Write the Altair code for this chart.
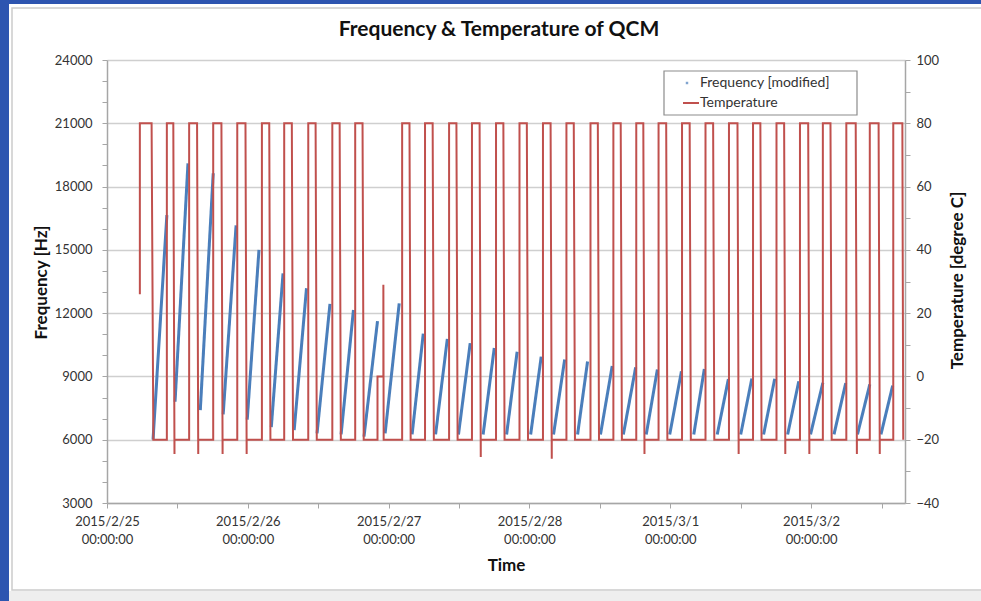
import altair as alt
import pandas as pd

BASE = pd.Timestamp("2015-02-25 00:00:00")

# ---------------- Temperature (hours after 2015/2/25 00:00:00) ----------------
temp_start_h = 5.6
temp_start_v = 26
rise_h = [5.6, 10.2, 14.0, 18.1, 22.2, 26.4, 30.2, 34.3, 38.4, 42.3,
          50.3, 54.2, 58.3, 62.2, 66.3, 70.3, 74.3, 78.3, 82.4, 86.3,
          90.2, 94.0, 98.0, 102.0, 106.0, 110.1, 114.1, 118.1, 122.0, 126.0,
          130.0, 134.0]
plateau_end_h = [7.6, 11.3, 15.35, 19.5, 23.6, 27.65, 31.5, 35.55, 39.65, 43.55,
                 51.55, 55.5, 59.55, 63.5, 67.55, 71.55, 75.6, 79.55, 83.65, 87.55,
                 91.4, 95.3, 99.3, 103.3, 107.45, 111.35, 115.4, 119.5, 123.3, 127.6,
                 131.5, 135.55]
bottom_h = [7.9, 11.5, 15.55, 19.7, 23.8, 27.85, 31.7, 35.75, 39.85, 43.75,
            51.75, 55.7, 59.75, 63.7, 67.75, 71.75, 75.8, 79.75, 83.85, 87.75,
            91.6, 95.5, 99.5, 103.5, 107.65, 111.55, 115.6, 119.7, 123.5, 127.8,
            131.7, 135.7]
bottom_v = [-20, -24.5, -24.5, -24.5, -24.5, -20, -20, -20, -20, -20,
            -20, -20, -20, -25.5, -20, -20, -26, -20, -20, -20,
            -24.5, -20, -20, -20, -24.5, -20, -24.5, -24.5, -20, -24.5,
            -24.5, -20]
# irregular step after the 10th cycle
glitch_h = [46.1, 46.1, 47.1, 47.1, 47.15]
glitch_v = [-20, 0, 0, 29, -20]

# ---------------- Frequency ramps ----------------
ramp_t0 = [7.85, 11.6, 15.9, 19.8, 23.9, 28.0, 31.9, 35.8, 39.9, 43.8,
           47.4, 52.0, 56.0, 59.9, 64.1, 68.1, 72.2, 76.1, 80.2, 84.1,
           88.0, 91.9, 95.9, 100.0, 104.0, 108.0, 111.9, 116.0, 119.9, 123.9,
           127.9, 131.9]
ramp_t1 = [10.2, 13.8, 18.1, 22.0, 25.9, 30.0, 34.0, 38.0, 42.0, 46.1,
           49.8, 53.9, 58.0, 61.9, 66.0, 69.9, 74.0, 78.0, 81.9, 86.1,
           90.1, 93.8, 97.9, 101.8, 105.9, 109.9, 113.8, 117.9, 122.0, 125.9,
           130.0, 133.9]
ramp_f0 = [6000, 7800, 7400, 7200, 6950, 6600, 6450, 6300, 6250, 6150,
           6300, 6250, 6250, 6250, 6250, 6250, 6250, 6250, 6250, 6250,
           6250, 6250, 6250, 6250, 6250, 6250, 6250, 6250, 6250, 6250,
           6250, 6250]
ramp_f1 = [16650, 19100, 18630, 16160, 15000, 13880, 13180, 12440, 12150, 11620,
           12460, 11030, 10780, 10580, 10350, 10170, 9940, 9800, 9710, 9500,
           9430, 9330, 9240, 9350, 8870, 8900, 8890, 8770, 8700, 8680,
           8620, 8560]

def ts(h):
    return (BASE + pd.to_timedelta(h, unit="h")).strftime("%Y-%m-%dT%H:%M:%S")

# build temperature path
th, tv = [temp_start_h], [temp_start_v]
for i in range(len(rise_h)):
    if i == 10:
        th += glitch_h
        tv += glitch_v
    if i > 0:
        th.append(rise_h[i]); tv.append(-20)
    th += [rise_h[i], plateau_end_h[i], bottom_h[i]]
    tv += [80, 80, bottom_v[i]]
    if bottom_v[i] != -20:
        th.append(bottom_h[i]); tv.append(-20)
temp_df = pd.DataFrame({"t": [ts(h) for h in th], "temp": tv, "i": range(len(th))})

rows = []
for k in range(len(ramp_t0)):
    rows.append({"t": ts(ramp_t0[k]), "freq": ramp_f0[k], "ramp": k})
    rows.append({"t": ts(ramp_t1[k]), "freq": ramp_f1[k], "ramp": k})
freq_df = pd.DataFrame(rows)

FONT = "Lato"
LBL = 13
TTL = 17
x_dom = [alt.DateTime(year=2015, month=2, date=25),
         alt.DateTime(year=2015, month=3, date=2, hours=16)]
x_ticks = [alt.DateTime(year=2015, month=2 if d <= 28 else 3,
                        date=d if d <= 28 else d - 28, hours=hh)
           for d in range(25, 31) for hh in (0, 12)]

x_enc = alt.X("t:T", scale=alt.Scale(domain=x_dom),
              axis=alt.Axis(values=x_ticks, grid=False, title="Time",
                            labelExpr="hours(datum.value) == 0 ? [timeFormat(datum.value, '%Y/%-m/%-d'), '00:00:00'] : ''",
                            labelAngle=0, labelAlign="center", labelBaseline="top",
                            labelPadding=7, labelLineHeight=18, labelFontSize=LBL,
                            labelFont=FONT, labelColor="#333333",
                            tickSize=5, tickColor="#a6a6a6", domainColor="#a6a6a6",
                            domainWidth=1.5, titleFont=FONT, titleFontSize=TTL,
                            titleFontWeight="bold", titleY=62, titleBaseline="middle",
                            titleColor="#111111"))

freq = alt.Chart(freq_df).mark_line(color="#4a7ebb", strokeWidth=3).encode(
    x=x_enc,
    y=alt.Y("freq:Q", scale=alt.Scale(domain=[3000, 24000], nice=False),
            axis=alt.Axis(orient="left", values=list(range(3000, 24001, 1000)),
                          format="d",
                          labelExpr="datum.value % 3000 === 0 ? datum.label : ''",
                          grid=True, gridColor="#cfcfcf", gridWidth=1.5,
                          gridOpacity={"condition": {"test": "datum.value % 3000 === 0", "value": 1}, "value": 0},
                          tickSize=5, tickColor="#a6a6a6", domainColor="#a6a6a6",
                          domainWidth=1.5, labelPadding=10, labelFontSize=LBL,
                          labelFont=FONT, labelColor="#333333",
                          title="Frequency [Hz]", titleFont=FONT, titleFontSize=TTL,
                          titleFontWeight="bold", titleX=-66, titleY=222,
                          titleAngle=270, titleAlign="center", titleBaseline="middle",
                          titleColor="#111111")),
    detail="ramp:N",
)

temp = alt.Chart(temp_df).mark_line(color="#c0504d", strokeWidth=2).encode(
    x=alt.X("t:T", scale=alt.Scale(domain=x_dom)),
    y=alt.Y("temp:Q", scale=alt.Scale(domain=[-40, 100], nice=False),
            axis=alt.Axis(orient="right", values=list(range(-40, 101, 10)),
                          labelExpr="datum.value % 20 === 0 ? datum.label : ''",
                          grid=False, tickSize=5, tickColor="#a6a6a6",
                          domainColor="#a6a6a6", domainWidth=1.5, labelPadding=6,
                          labelFontSize=LBL, labelFont=FONT, labelColor="#333333",
                          title="Temperature [degree C]", titleFont=FONT,
                          titleFontSize=TTL, titleFontWeight="bold", titleX=52,
                          titleY=220, titleAngle=270, titleAlign="center",
                          titleBaseline="middle", titleColor="#111111")),
    order="i:Q",
)

one = pd.DataFrame({"a": [0]})
# frame decorations (screen-capture border)
frame_line = alt.Chart(one).mark_rect(fillOpacity=0, stroke="#cccccc", strokeWidth=1.5).encode(
    x=alt.value(-95), x2=alt.value(890), y=alt.value(-52), y2=alt.value(530))
blue_left = alt.Chart(one).mark_rect(fill="#2d55b0").encode(
    x=alt.value(-107), x2=alt.value(-98), y=alt.value(-60), y2=alt.value(541))
blue_top = alt.Chart(one).mark_rect(fill="#2d55b0").encode(
    x=alt.value(-107), x2=alt.value(874), y=alt.value(-60), y2=alt.value(-56))
bottom_strip = alt.Chart(one).mark_rect(fill="#eeeeee").encode(
    x=alt.value(-98), x2=alt.value(874), y=alt.value(531), y2=alt.value(541))

# chart title
title = alt.Chart(one).mark_text(text="Frequency & Temperature of QCM", align="center",
                                 baseline="middle", font=FONT, fontSize=21,
                                 fontWeight="bold", color="#111111").encode(
    x=alt.value(392), y=alt.value(-30))

# legend
leg_box = alt.Chart(one).mark_rect(fill="white", stroke="#8c8c8c", strokeWidth=1.2).encode(
    x=alt.value(557), x2=alt.value(750), y=alt.value(11), y2=alt.value(55))
leg_dot = alt.Chart(one).mark_point(filled=True, color="#4a7ebb", size=6, shape="square").encode(
    x=alt.value(580), y=alt.value(23))
leg_line = alt.Chart(one).mark_rule(color="#c0504d", strokeWidth=2).encode(
    x=alt.value(576), x2=alt.value(592), y=alt.value(43))
leg_t1 = alt.Chart(one).mark_text(text="Frequency [modified]", align="left", baseline="middle",
                                  font=FONT, fontSize=14, color="#333333").encode(
    x=alt.value(593), y=alt.value(23))
leg_t2 = alt.Chart(one).mark_text(text="Temperature", align="left", baseline="middle",
                                  font=FONT, fontSize=14, color="#333333").encode(
    x=alt.value(593), y=alt.value(43))

chart = alt.layer(
    frame_line, blue_left, blue_top, bottom_strip, title,
    freq, temp,
    leg_box, leg_dot, leg_line, leg_t1, leg_t2,
).resolve_scale(y="independent").properties(
    width=798, height=443,
    autosize=alt.AutoSizeParams(type="none"),
    padding={"left": 107, "top": 60, "right": 76, "bottom": 98},
).configure(background="white").configure_view(stroke=None)

chart.save("out.html", embed_options={"renderer": "svg", "actions": False})
